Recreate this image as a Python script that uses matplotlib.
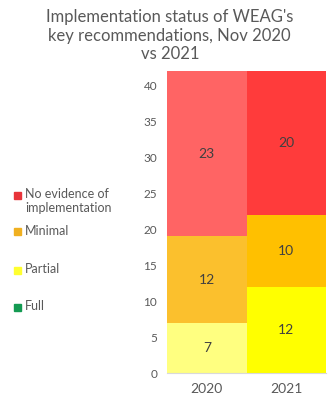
import matplotlib
matplotlib.use('Agg')
import matplotlib.pyplot as plt
from matplotlib.patches import Rectangle
import numpy as np

plt.rcParams['font.family'] = ['Lato', 'DejaVu Sans']

years = ["2020", "2021"]
partial = [7, 12]
minimal = [12, 10]
no_evidence = [23, 20]

col_partial = ["#FFFF80", "#FFFF00"]
col_minimal = ["#FBC02D", "#FFC000"]
col_none = ["#FF6464", "#FF3B3B"]

legend_labels = ["No evidence of\nimplementation", "Minimal", "Partial", "Full"]
legend_colors = ["#E8343A", "#F0B020", "#FFFF30", "#149A52"]

grey = "#595959"

fig = plt.figure(figsize=(3.31, 4.04), dpi=100)
ax = fig.add_axes([0.5045, 0.0767, 0.4805, 0.7473])

x = np.arange(len(years))
b1 = ax.bar(x, partial, width=1.0, color=col_partial)
b2 = ax.bar(x, minimal, width=1.0, bottom=partial, color=col_minimal)
bottom3 = np.array(partial) + np.array(minimal)
b3 = ax.bar(x, no_evidence, width=1.0, bottom=bottom3, color=col_none)
for bars in (b1, b2, b3):
    ax.bar_label(bars, label_type='center', color="#404040", fontsize=10)

ax.set_xlim(-0.5, 1.5)
ax.set_ylim(0, 42)
ax.set_yticks(range(0, 41, 5))
ax.set_xticks(x)
ax.set_xticklabels(years)
ax.tick_params(axis='y', length=0, labelsize=8.5, colors=grey, pad=7)
ax.tick_params(axis='x', length=0, labelsize=10, colors=grey, pad=7)
for s in ['top', 'right', 'left']:
    ax.spines[s].set_visible(False)
ax.spines['bottom'].set_color("#D9D9D9")

fig.text(0.513, 0.977, "Implementation status of WEAG's\nkey recommendations, Nov 2020\nvs 2021",
         ha='center', va='top', fontsize=12, color=grey, linespacing=1.2)

# legend drawn by hand, marker on first line of each label
legend_y = [195, 232, 270, 307]
for lab, c, yp in zip(legend_labels, legend_colors, legend_y):
    yf = 1 - yp / 404
    fig.patches.append(Rectangle((14 / 331, yf - 3.5 / 404), 7 / 331, 7 / 404,
                                 transform=fig.transFigure, color=c))
    fig.text(25 / 331, yf + 7 / 404, lab, ha='left', va='top', fontsize=9,
             color=grey, linespacing=1.25)

fig.savefig("out.png", dpi=100)
